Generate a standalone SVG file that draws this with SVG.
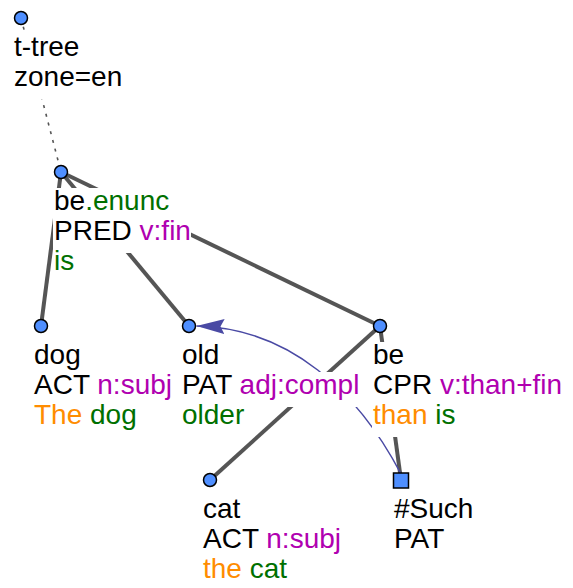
<svg xmlns="http://www.w3.org/2000/svg" width="573" height="588" viewBox="0 0 573 588">
<style>
text{font-family:"Liberation Sans",Arial,sans-serif;font-size:28px;fill:#000}
.bg{fill:#fff}
.nd{fill:#4f8fff;stroke:#000;stroke-width:1.5}
.edge{stroke:#555;stroke-width:4;fill:none;stroke-linecap:butt}
.dot{stroke:#555;stroke-width:1.6;fill:none;stroke-dasharray:3 6}
.arr{stroke:#4a4aa4;stroke-width:1.5;fill:none}
.m{fill:#b000b0}
.g{fill:#007000}
.o{fill:#ff8c00}
</style>
<defs>
<marker id="ah" markerUnits="userSpaceOnUse" markerWidth="28" markerHeight="15" viewBox="0 0 28 15" refX="28" refY="7.5" orient="auto">
<path d="M28,7.5 L0,0 L4,7.5 L0,15 Z" fill="#4a4aa4"/>
</marker>
</defs>
<g id="connectors">
<line class="dot" x1="21" y1="18" x2="61" y2="172"/>
<line class="edge" x1="61" y1="172" x2="41" y2="326"/>
<line class="edge" x1="61" y1="172" x2="189" y2="326"/>
<line class="edge" x1="61" y1="172" x2="380" y2="326"/>
<line class="edge" x1="380" y1="326" x2="210" y2="480"/>
<line class="edge" x1="380" y1="326" x2="401" y2="480"/>
<path class="arr" d="M401,474 C358,392 290,328 196.5,326" marker-end="url(#ah)"/>
</g>
<g id="n-ttree">
<rect class="bg" x="13" y="34" width="68" height="35"/>
<rect class="bg" x="13" y="64" width="110" height="35"/>
<text x="14" y="56">t-tree</text>
<text x="14" y="86">zone=en</text>
<circle class="nd" cx="21" cy="18" r="6.5"/>
</g>
<g id="n-be-enunc">
<rect class="bg" x="53" y="188" width="118" height="35"/>
<rect class="bg" x="53" y="218" width="138" height="35"/>
<rect class="bg" x="53" y="248" width="23" height="35"/>
<text x="54" y="210">be<tspan class="g">.enunc</tspan></text>
<text x="54" y="240">PRED <tspan class="m">v:fin</tspan></text>
<text x="54" y="270" class="g">is</text>
<circle class="nd" cx="61" cy="172" r="6.5"/>
</g>
<g id="n-dog">
<rect class="bg" x="33" y="342" width="49" height="35"/>
<rect class="bg" x="33" y="372" width="141" height="35"/>
<rect class="bg" x="33" y="402" width="105" height="35"/>
<text x="34" y="364">dog</text>
<text x="34" y="394">ACT <tspan class="m">n:subj</tspan></text>
<text x="34" y="424"><tspan class="o">The</tspan> <tspan class="g">dog</tspan></text>
<circle class="nd" cx="41" cy="326" r="6.5"/>
</g>
<g id="n-old">
<rect class="bg" x="181" y="342" width="40" height="35"/>
<rect class="bg" x="181" y="372" width="182" height="35"/>
<rect class="bg" x="181" y="402" width="65" height="35"/>
<text x="182" y="364">old</text>
<text x="182" y="394">PAT <tspan class="m">adj:compl</tspan></text>
<text x="182" y="424" class="g">older</text>
<circle class="nd" cx="189" cy="326" r="6.5"/>
</g>
<g id="n-be">
<rect class="bg" x="372" y="342" width="34" height="35"/>
<rect class="bg" x="372" y="372" width="191" height="35"/>
<rect class="bg" x="372" y="402" width="85" height="35"/>
<text x="373" y="364">be</text>
<text x="373" y="394">CPR <tspan class="m">v:than+fin</tspan></text>
<text x="373" y="424"><tspan class="o">than</tspan> <tspan class="g">is</tspan></text>
<circle class="nd" cx="380" cy="326" r="6.5"/>
</g>
<g id="n-cat">
<rect class="bg" x="202" y="496" width="40" height="35"/>
<rect class="bg" x="202" y="526" width="141" height="35"/>
<rect class="bg" x="202" y="556" width="87" height="35"/>
<text x="203" y="518">cat</text>
<text x="203" y="548">ACT <tspan class="m">n:subj</tspan></text>
<text x="203" y="578"><tspan class="o">the</tspan> <tspan class="g">cat</tspan></text>
<circle class="nd" cx="210" cy="480" r="6.5"/>
</g>
<g id="n-such">
<rect class="bg" x="393" y="496" width="82" height="35"/>
<rect class="bg" x="393" y="526" width="57" height="35"/>
<text x="394" y="518">#Such</text>
<text x="394" y="548">PAT</text>
<rect class="nd" x="393.5" y="473" width="15" height="15"/>
</g>
</svg>
